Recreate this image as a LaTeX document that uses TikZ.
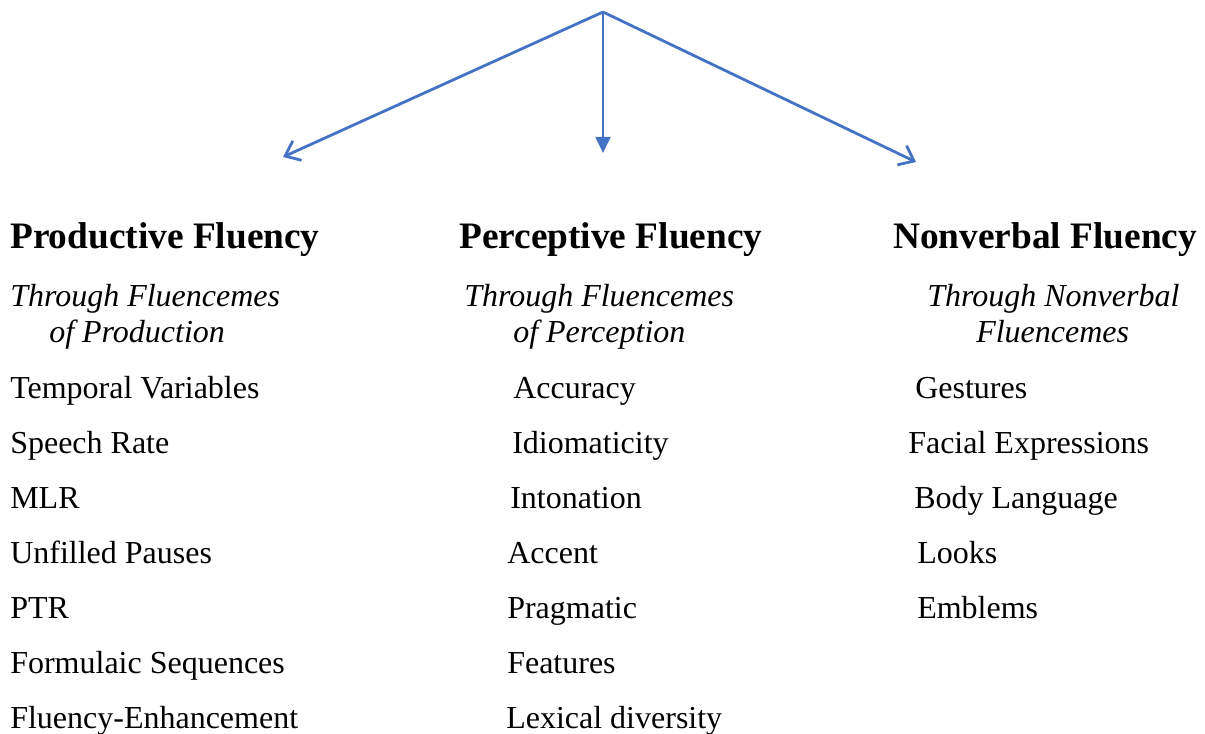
\documentclass[tikz,border=0pt]{standalone}
\usepackage{fontspec}
\setmainfont{Liberation Serif}
\usetikzlibrary{arrows.meta, positioning}
\definecolor{arrowblue}{RGB}{68,114,196}
\begin{document}
\begin{tikzpicture}[x=.75pt, y=-.75pt,
    head/.style={anchor=base west, inner sep=0pt, font=\fontsize{28}{32}\selectfont\bfseries},
    sub/.style={anchor=base west, inner sep=0pt, font=\fontsize{24}{28}\selectfont\itshape},
    item/.style={anchor=base west, inner sep=0pt, font=\fontsize{24}{28}\selectfont},
    branch/.style={draw=arrowblue, line width=2.1pt}]
\useasboundingbox (0,0) rectangle (1205,734);
%
\coordinate (top) at (603,12);
\coordinate (prod tip) at (283,157);
\coordinate (perc tip) at (603,153);
\coordinate (nonv tip) at (916,162);
\draw[branch, -{Straight Barb[length=10pt, width=16pt, line width=2.1pt]}] (top) -- (prod tip);
\draw[branch, -{Triangle[length=12pt, width=11pt]}] (top) -- (perc tip);
\draw[branch, -{Straight Barb[length=10pt, width=16pt, line width=2.1pt]}] (top) -- (nonv tip);
%
\node[head] (prod) at (10,248) {Productive Fluency};
\node[sub] (prod sub1) at (10,306) {Through Fluencemes};
\node[sub] (prod sub2) at (49,342) {of Production};
\node[item] (temporal) at (10,398) {Temporal Variables};
\node[item] (rate) at (10,453) {Speech Rate};
\node[item] (mlr) at (10,508) {MLR};
\node[item] (unfilled) at (10,563) {Unfilled Pauses};
\node[item] (ptr) at (10,618) {PTR};
\node[item] (formulaic) at (10,673) {Formulaic Sequences};
\node[item] (enhance) at (10,728) {Fluency-Enhancement};
%
\node[head] (perc) at (459,248) {Perceptive Fluency};
\node[sub] (perc sub1) at (464,306) {Through Fluencemes};
\node[sub] (perc sub2) at (513,342) {of Perception};
\node[item] (accuracy) at (513,398) {Accuracy};
\node[item] (idiom) at (512,453) {Idiomaticity};
\node[item] (inton) at (510,508) {Intonation};
\node[item] (accent) at (507,563) {Accent};
\node[item] (pragm) at (507,618) {Pragmatic};
\node[item] (features) at (507,673) {Features};
\node[item] (lexical) at (506,728) {Lexical diversity};
%
\node[head] (nonv) at (893,248) {Nonverbal Fluency};
\node[sub] (nonv sub1) at (927,306) {Through Nonverbal};
\node[sub] (nonv sub2) at (976,342) {Fluencemes};
\node[item] (gestures) at (915,398) {Gestures};
\node[item] (facial) at (908,453) {Facial Expressions};
\node[item] (body) at (914,508) {Body Language};
\node[item] (looks) at (917,563) {Looks};
\node[item] (emblems) at (917,618) {Emblems};
\end{tikzpicture}
\end{document}
